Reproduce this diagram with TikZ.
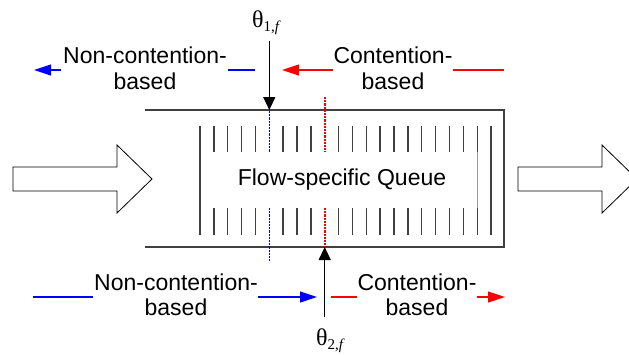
\documentclass[tikz,border=0pt]{standalone}
\usepackage{fontspec}
\setmainfont{Liberation Sans}
\newfontfamily\tms{Liberation Serif}
\usetikzlibrary{arrows.meta}
\tikzset{
  lbl/.style={inner sep=0pt, font=\fontsize{23}{26}\selectfont},
  theta/.style={inner sep=0pt, font=\tms\fontsize{24}{24}\selectfont},
  boxline/.style={draw=black!75, line width=1.5pt},
  tick/.style={draw=black!75, line width=1.4pt},
  thresh/.style={line width=1.6pt, dash pattern=on 2.2pt off 1pt},
  bluearr/.style={draw=blue, line width=1.2pt, -{Triangle[length=17pt,width=11pt]}},
  redarr/.style={draw=red, line width=1.2pt, -{Triangle[length=17pt,width=11pt]}},
  blueline/.style={draw=blue, line width=1.2pt},
  redline/.style={draw=red, line width=1.2pt},
  blackarr/.style={draw=black, line width=1.3pt, -{Triangle[length=13pt,width=12pt]}},
  blockarr/.style={draw=black, line width=0.8pt, fill=white},
}
\begin{document}
\begin{tikzpicture}[x=1pt,y=-1pt]
\useasboundingbox (0,0) rectangle (629,354);
\clip (0,0) rectangle (629,354);

% block arrows
\draw[blockarr] (13,167) -- (117,167) -- (117,145) -- (152,179) -- (117,213) -- (117,191) -- (13,191) -- cycle;
\draw[blockarr] (518,167) -- (602,167) -- (602,145) -- (637,179) -- (602,213) -- (602,191) -- (518,191) -- cycle;

% queue box (open on the left)
\draw[boxline] (145,110) -- (504,110) -- (504,247) -- (145,247);

% ticks
\foreach \i in {1,...,4,6,7,8,10,11,...,19} {
  \draw[tick] ({200+13.86*\i},126) -- ({200+13.86*\i},152);
  \draw[tick] ({200+13.86*\i},208) -- ({200+13.86*\i},235);
}
\draw[tick] (200,126) -- (200,235);
\draw[tick] ({200+13.86*21},126) -- ({200+13.86*21},235);
\draw[tick] ({200+13.86*20},126) -- ({200+13.86*20},152);
\draw[tick] ({200+13.86*20},208) -- ({200+13.86*20},235);
\draw[draw=black!40, line width=0.6pt] ({200+13.86*20},152) -- ({200+13.86*20},208);

% dotted thresholds
\draw[blue, thresh] (269.3,111) -- (269.3,152);
\draw[blue, thresh] (269.3,208) -- (269.3,262);
\draw[red, thresh] (324.7,97) -- (324.7,152);
\draw[red, thresh] (324.7,208) -- (324.7,247);

% queue label
\node[lbl, anchor=base] (queue) at (342,185) {Flow-specific Queue};

% theta labels and arrows
\node[theta, anchor=base west] (th1) at (252,27) {θ\raisebox{-4pt}{\fontsize{15}{15}\selectfont 1,\textit{f}}};
\node[theta, anchor=base west] (th2) at (316,345) {θ\raisebox{-4pt}{\fontsize{15}{15}\selectfont 2,\textit{f}}};
\coordinate (th1s) at (269.3,41);
\coordinate (th1e) at (269.3,110);
\coordinate (th2s) at (324.7,317);
\coordinate (th2e) at (324.7,247);
\draw[blackarr] (th1s) -- (th1e);
\draw[blackarr] (th2s) -- (th2e);

% top labels
\node[lbl, anchor=base] (tl1) at (145,63) {Non-contention-};
\node[lbl, anchor=base] (tl2) at (145,89) {based};
\node[lbl, anchor=base] (tr1) at (393,63) {Contention-};
\node[lbl, anchor=base] (tr2) at (393,89) {based};
\coordinate (tba) at (255,70);
\coordinate (tbb) at (228,70);
\coordinate (tbc) at (61,70);
\coordinate (tbd) at (34,70);
\draw[blueline] (tba) -- (tbb);
\draw[bluearr] (tbc) -- (tbd);
\coordinate (tra) at (504,70);
\coordinate (trb) at (453,70);
\coordinate (trc) at (333,70);
\coordinate (trd) at (282,70);
\draw[redline] (tra) -- (trb);
\draw[redarr] (trc) -- (trd);

% bottom labels
\node[lbl, anchor=base] (bl1) at (176,290) {Non-contention-};
\node[lbl, anchor=base] (bl2) at (176,315) {based};
\node[lbl, anchor=base] (br1) at (417,290) {Contention-};
\node[lbl, anchor=base] (br2) at (417,315) {based};
\coordinate (bba) at (33,297);
\coordinate (bbb) at (93,297);
\coordinate (bbc) at (258,297);
\coordinate (bbd) at (317,297);
\draw[blueline] (bba) -- (bbb);
\draw[bluearr] (bbc) -- (bbd);
\coordinate (bra) at (331,297);
\coordinate (brb) at (357,297);
\coordinate (brc) at (477,297);
\coordinate (brd) at (505,297);
\draw[redline] (bra) -- (brb);
\draw[redarr] (brc) -- (brd);
\end{tikzpicture}
\end{document}
